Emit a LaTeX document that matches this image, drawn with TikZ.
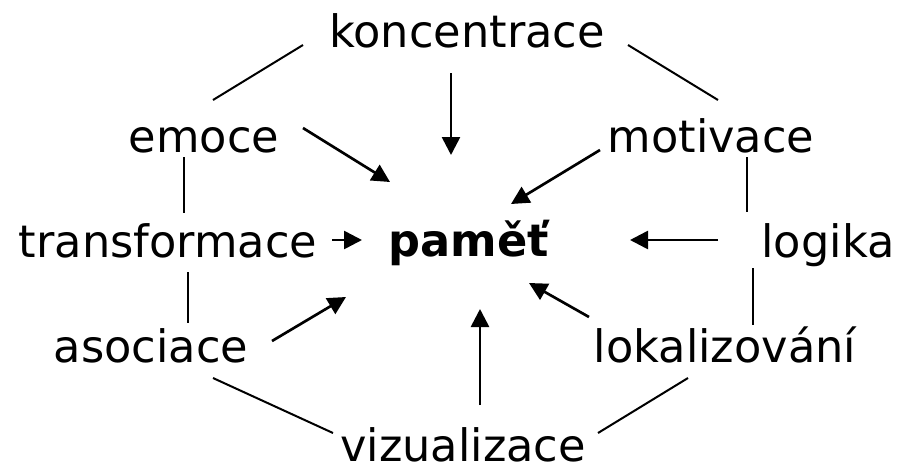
\documentclass[tikz,border=0pt]{standalone}
\usepackage{fontspec}
\setmainfont{DejaVu Sans}
\usetikzlibrary{arrows.meta}
\tikzset{
  lbl/.style={anchor=base,inner sep=0pt,font=\fontsize{33.5}{40}\selectfont},
  ctr/.style={anchor=base,inner sep=0pt,font=\fontsize{33.5}{40}\selectfont\bfseries},
  edge/.style={line width=1.5pt},
  arr/.style={line width=2pt,-{Triangle[length=13.5pt,width=13.5pt]}}
}
\begin{document}
\begin{tikzpicture}[x=0.75pt,y=-0.75pt]
\useasboundingbox[fill=white] (0,0) rectangle (899,472);
\node[lbl] (konc) at (467,47) {koncentrace};
\node[lbl] (emoce) at (204,152) {emoce};
\node[lbl] (motiv) at (711,152) {motivace};
\node[lbl] (transf) at (168,257) {transformace};
\node[ctr] (pamet) at (469,256) {paměť};
\node[lbl] (logika) at (828,257) {logika};
\node[lbl] (asoc) at (151,362) {asociace};
\node[lbl] (lokal) at (725,362) {lokalizování};
\node[lbl] (vizual) at (463,461) {vizualizace};
% outer ring
\draw[edge] ([shift={(-164,-2)}]konc.base) -- ([shift={(9,-52)}]emoce.base);
\draw[edge] ([shift={(161,-2)}]konc.base) -- ([shift={(7,-52)}]motiv.base);
\draw[edge] ([shift={(-20,5)}]emoce.base) -- ([shift={(16,-44)}]transf.base);
\draw[edge] ([shift={(20,15)}]transf.base) -- ([shift={(37,-39)}]asoc.base);
\draw[edge] ([shift={(36,5)}]motiv.base) -- ([shift={(-81,-45)}]logika.base);
\draw[edge] ([shift={(-75,11)}]logika.base) -- ([shift={(28,-37)}]lokal.base);
\draw[edge] ([shift={(62,16)}]asoc.base) -- ([shift={(-130,-28)}]vizual.base);
\draw[edge] ([shift={(-37,16)}]lokal.base) -- ([shift={(135,-28)}]vizual.base);
% arrows to center
\draw[arr] ([shift={(-16,26)}]konc.base) -- ([shift={(-18,-101)}]pamet.base);
\draw[arr] ([shift={(99,-24)}]emoce.base) -- ([shift={(-79,-74)}]pamet.base);
\draw[arr] ([shift={(-111,-2)}]motiv.base) -- ([shift={(42,-52)}]pamet.base);
\draw[arr] ([shift={(164,-17)}]transf.base) -- ([shift={(-107,-16)}]pamet.base);
\draw[arr] ([shift={(-110,-17)}]logika.base) -- ([shift={(161,-16)}]pamet.base);
\draw[arr] ([shift={(121,-21)}]asoc.base) -- ([shift={(-123,41)}]pamet.base);
\draw[arr] ([shift={(17,-56)}]vizual.base) -- ([shift={(11,53)}]pamet.base);
\draw[arr] ([shift={(-136,-45)}]lokal.base) -- ([shift={(60,27)}]pamet.base);
\end{tikzpicture}
\end{document}
